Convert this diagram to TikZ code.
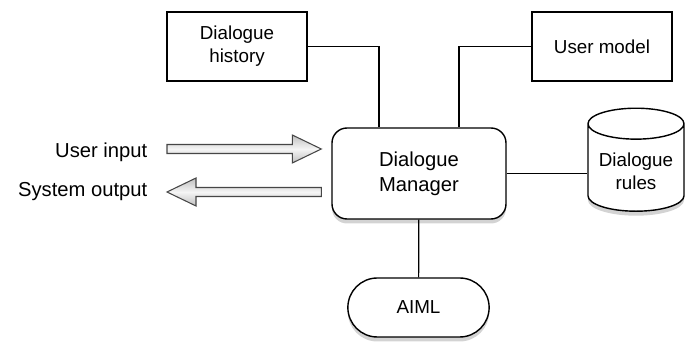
\documentclass[tikz,border=0pt]{standalone}
\usepackage{fontspec}
\setmainfont{Liberation Sans}
\tikzset{>=latex}
\usetikzlibrary{calc,shapes.geometric,shapes.misc,shadows}
% fat hollow arrow from #1 to #2
\newcommand{\fatarrow}[2]{%
  \coordinate (h) at ($(#2)!0.58cm!(#1)$);
  \draw[fat] ($(#1)!0.09cm!90:(#2)$) -- ($(h)!0.09cm!-90:(#1)$)
    -- ($(h)!0.28cm!-90:(#1)$) -- (#2) -- ($(h)!0.28cm!90:(#1)$)
    -- ($(h)!0.09cm!90:(#1)$) -- ($(#1)!0.09cm!-90:(#2)$) -- cycle;}

\begin{document}
\begin{tikzpicture}[line width=0.8pt,
  big/.style={font=\fontsize{11.5}{14}\selectfont},
  small/.style={font=\fontsize{10.7}{13.2}\selectfont},
  box/.style={draw, small, align=center, minimum width=2.8cm, minimum height=1.38cm},
  shade/.style={drop shadow={shadow xshift=0cm, shadow yshift=-0.09cm, opacity=0.35}},
  fat/.style={draw=gray!55!black, line width=0.6pt, top color=gray!50, bottom color=gray!50, middle color=gray!8},
  link/.style={line width=0.7pt}]
  \useasboundingbox (0,0) rectangle (13.7,6.84);
  \node[box] (hist) at (4.74,5.91) {Dialogue\\history};
  \node[box] (user) at (12.04,5.91) {User model};
  \node[draw, big, align=center, fill=white, rounded corners=0.3cm, shade,
        minimum width=3.48cm, minimum height=1.82cm] (mgr) at (8.38,3.37) {Dialogue\\Manager};
  \node[draw, small, align=center, fill=white, cylinder, shape border rotate=90, aspect=0.36, shade,
        minimum width=1.92cm, minimum height=2.06cm] (rules) at (12.72,3.41) {Dialogue\\rules};
  \node[draw, small, fill=white, rounded rectangle, shade,
        minimum width=3.06cm, minimum height=1.18cm] (aiml) at (8.37,0.69) {AIML};
  \node[big, anchor=east, inner sep=0pt] (inp) at (2.96,3.80) {User input};
  \node[big, anchor=east, inner sep=0pt] (outp) at (2.96,3.0) {System output};
  % links
  \draw[link] (hist.east) -| ([xshift=-0.8cm]mgr.north);
  \draw[link] (user.west) -| ([xshift=0.8cm]mgr.north);
  \draw[link] (mgr.east) -- (mgr.east -| rules.west);
  \draw[link] (mgr) -- (aiml);
  % input / output
  \coordinate (i1) at ([xshift=0.38cm,yshift=0.06cm]inp.east);
  \coordinate (i2) at ([xshift=-0.2cm]mgr.west |- i1);
  \coordinate (o1) at ([xshift=0.38cm]outp.east);
  \coordinate (o2) at ([xshift=-0.2cm]mgr.west |- o1);
  \fatarrow{i1}{i2}
  \fatarrow{o2}{o1}
\end{tikzpicture}
\end{document}
